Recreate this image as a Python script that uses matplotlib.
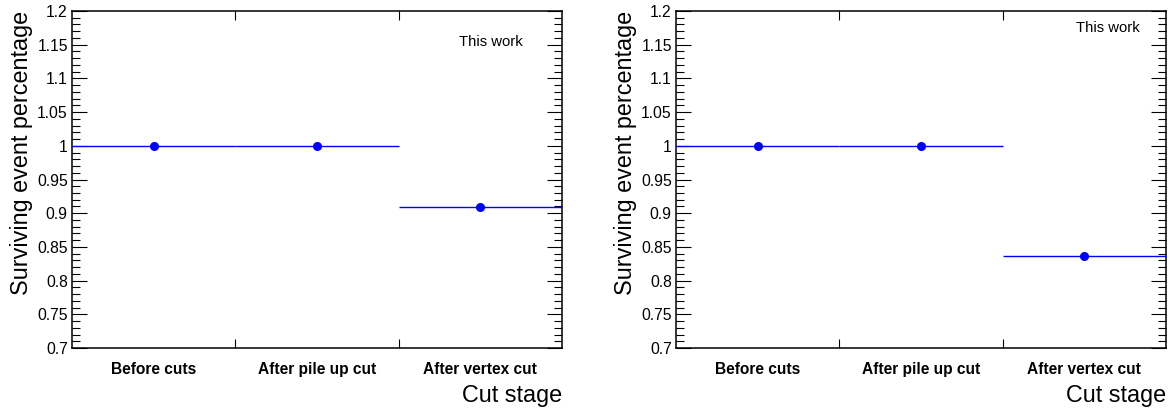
#!/usr/bin/env python3

# Surviving event fraction per cut stage, two samples side by side

import numpy as np
import matplotlib
matplotlib.use("Agg")
import matplotlib.pyplot as plt
from matplotlib.ticker import MultipleLocator

plt.rcParams['font.family'] = ['Liberation Sans', 'DejaVu Sans']

stages = ["Before cuts", "After pile up cut", "After vertex cut"]
frac_left = [1.0, 1.0, 0.909]
frac_right = [1.0, 1.0, 0.836]
label_pos = [(0.855, 0.908), (0.882, 0.95)]


def style_axes(ax):
    ax.set_xlim(0, len(stages))
    ax.set_ylim(0.7, 1.2)
    ax.yaxis.set_major_locator(MultipleLocator(0.05))
    ax.yaxis.set_minor_locator(MultipleLocator(0.01))
    ax.yaxis.set_major_formatter(matplotlib.ticker.FuncFormatter(lambda v, p: "%g" % round(v, 3)))
    ax.set_xticks(np.arange(1, len(stages)))
    ax.set_xticklabels([])
    ax.tick_params(axis='y', which='major', direction='in', length=11, width=0.8,
                   left=True, right=True, labelsize=11.3, pad=3)
    ax.tick_params(axis='y', which='minor', direction='in', length=5.5, width=0.8,
                   left=True, right=True)
    ax.tick_params(axis='x', which='major', direction='in', length=6.5, width=0.8,
                   top=True, bottom=True)
    for sp in ax.spines.values():
        sp.set_linewidth(1.1)
    # category labels centred in bins
    for i, s in enumerate(stages):
        ax.text(i + 0.5, -0.065, s, transform=ax.get_xaxis_transform(),
                ha='center', va='center', fontsize=11.2, fontweight='bold')
    ax.text(1.0, -0.14, "Cut stage", transform=ax.transAxes,
            ha='right', va='center', fontsize=16.8)
    ax.set_ylabel("Surviving event percentage", fontsize=16.8, loc='top', labelpad=3)


fig = plt.figure(figsize=(11.71, 4.08), dpi=100)
ax1 = fig.add_axes([0.0615, 0.147, 0.4185, 0.826])
ax2 = fig.add_axes([0.5773, 0.147, 0.4185, 0.826])

for ax, vals, (tx, ty) in zip([ax1, ax2], [frac_left, frac_right], label_pos):
    x = np.arange(len(stages)) + 0.5
    ax.errorbar(x, vals, xerr=0.5, fmt='o', color='blue', ms=5.5, elinewidth=1.0,
                capsize=0, zorder=3)
    style_axes(ax)
    ax.text(tx, ty, "This work", transform=ax.transAxes, ha='center', va='center', fontsize=10.7)

fig.savefig("out.png", dpi=100)
